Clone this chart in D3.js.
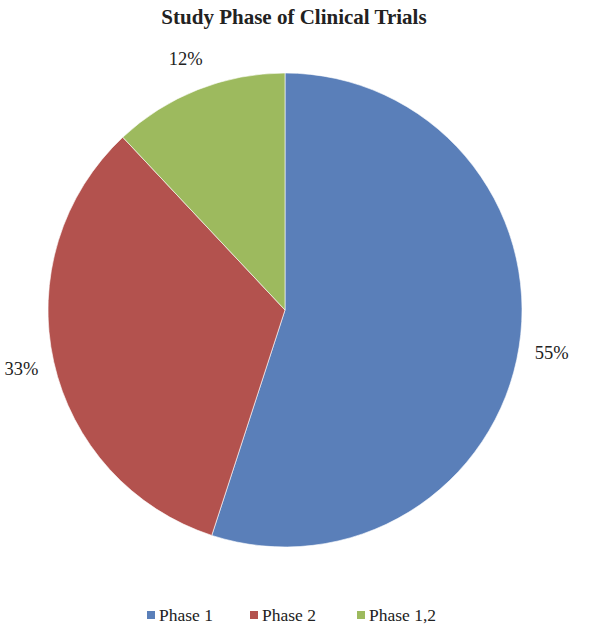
<!DOCTYPE html>
<html>
<head>
<meta charset="utf-8">
<script src="https://cdn.jsdelivr.net/npm/d3@7"></script>
<style>
  body { margin: 0; background: #fff; }
  svg text { font-family: "Liberation Serif", "Times New Roman", serif; fill: #222; }
</style>
</head>
<body>
<svg id="chart" width="591" height="634"></svg>
<script>
// donnees du graphique
const phases = ["Phase 1", "Phase 2", "Phase 1,2"];
const percents = [55, 33, 12];
const colors = ["#5A7FB9", "#B3524E", "#9DBA5E"];

const width = 591, height = 634;
const cx = 285, cy = 310, radius = 237;

const svg = d3.select("#chart");

// titre
svg.append("text")
    .attr("x", 294)
    .attr("y", 24)
    .attr("text-anchor", "middle")
    .style("font-size", "21px")
    .style("font-weight", "bold")
    .text("Study Phase of Clinical Trials");

const data = phases.map((p, i) => ({ phase: p, value: percents[i] }));
const color = d3.scaleOrdinal().domain(phases).range(colors);

const pie = d3.pie().sort(null).value(d => d.value);
const arc = d3.arc().innerRadius(0).outerRadius(radius);
const labelArc = d3.arc().innerRadius(270).outerRadius(270);

const g = svg.append("g").attr("transform", `translate(${cx},${cy})`);

const arcs = g.selectAll(".arc")
    .data(pie(data))
    .join("g")
    .attr("class", "arc");

arcs.append("path")
    .attr("d", arc)
    .attr("fill", d => color(d.data.phase))
    .attr("stroke", "#fff")
    .attr("stroke-width", 0.6);

// etiquettes de pourcentage
arcs.append("text")
    .attr("transform", d => `translate(${labelArc.centroid(d)})`)
    .attr("text-anchor", "middle")
    .attr("dy", "0.35em")
    .style("font-size", "18.5px")
    .text(d => `${d.data.value}%`);

// legende
const legendX = [147, 250, 357];
const legend = svg.append("g")
    .selectAll("g")
    .data(phases)
    .join("g")
    .attr("transform", (d, i) => `translate(${legendX[i]},615)`);

legend.append("rect")
    .attr("x", 0)
    .attr("y", -4)
    .attr("width", 8)
    .attr("height", 8)
    .attr("fill", d => color(d));

legend.append("text")
    .attr("x", 12)
    .attr("y", 0)
    .attr("dy", "0.35em")
    .style("font-size", "17.5px")
    .text(d => d);
</script>
</body>
</html>
